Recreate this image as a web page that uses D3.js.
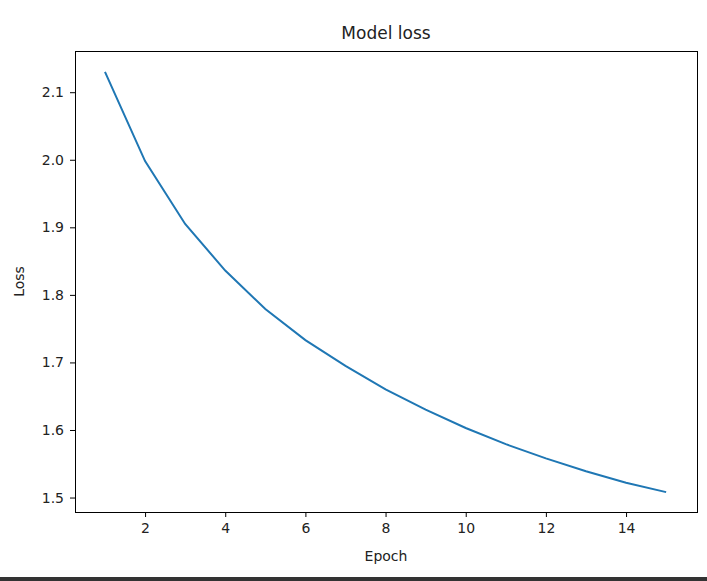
<!DOCTYPE html>
<html><head><meta charset="utf-8">
<script src="https://cdn.jsdelivr.net/npm/d3@7"></script>
<style>body{margin:0;background:#fff}text{font-family:"DejaVu Sans",sans-serif;fill:#222}</style>
</head><body>
<script>
var epochs = [1,2,3,4,5,6,7,8,9,10,11,12,13,14,15]
var loss = [2.13,1.998,1.905,1.836,1.779,1.733,1.695,1.66,1.63,1.603,1.579,1.558,1.539,1.522,1.508]
var xTicks = [2,4,6,8,10,12,14]
var yTicks = [1.5,1.6,1.7,1.8,1.9,2.0,2.1]

var W = 707, H = 581, m = {top: 51, left: 75, right: 10, bottom: 69}
var svg = d3.select('body').append('svg').attr('width', W).attr('height', H)
var x = d3.scaleLinear().domain([0.252, 15.77]).range([m.left, W - m.right])
var y = d3.scaleLinear().domain([1.4786, 2.161]).range([H - m.bottom, m.top])

svg.append('g').attr('transform', 'translate(0,' + (H - m.bottom) + ')')
  .call(d3.axisBottom(x).tickValues(xTicks).tickSize(5).tickPadding(6).tickFormat(d3.format('d')))
  .call(g => g.select('.domain').remove())
  .selectAll('text').style('font-size', '14px')
svg.append('g').attr('transform', 'translate(' + m.left + ',0)')
  .call(d3.axisLeft(y).tickValues(yTicks).tickSize(5).tickPadding(6).tickFormat(d3.format('.1f')))
  .call(g => g.select('.domain').remove())
  .selectAll('text').style('font-size', '14px')

svg.append('rect').attr('x', m.left + 0.5).attr('y', m.top + 0.5)
  .attr('width', W - m.left - m.right).attr('height', H - m.top - m.bottom)
  .attr('fill', 'none').attr('stroke', '#000').attr('stroke-width', 1)

svg.append('path').datum(epochs)
  .attr('d', d3.line().x(d => x(d)).y((d, i) => y(loss[i])))
  .attr('fill', 'none').attr('stroke', '#1f77b4').attr('stroke-width', 2)

svg.append('text').attr('x', (m.left + W - m.right) / 2).attr('y', 39)
  .attr('text-anchor', 'middle').style('font-size', '17px').text('Model loss')
svg.append('text').attr('x', (m.left + W - m.right) / 2).attr('y', 561)
  .attr('text-anchor', 'middle').style('font-size', '14px').text('Epoch')
svg.append('text').attr('transform', 'translate(24,' + ((m.top + H - m.bottom) / 2) + ') rotate(-90)')
  .attr('text-anchor', 'middle').style('font-size', '14px').text('Loss')

svg.append('rect').attr('x', 0).attr('y', 577).attr('width', W).attr('height', 4).attr('fill', '#333')
</script>
</body></html>
